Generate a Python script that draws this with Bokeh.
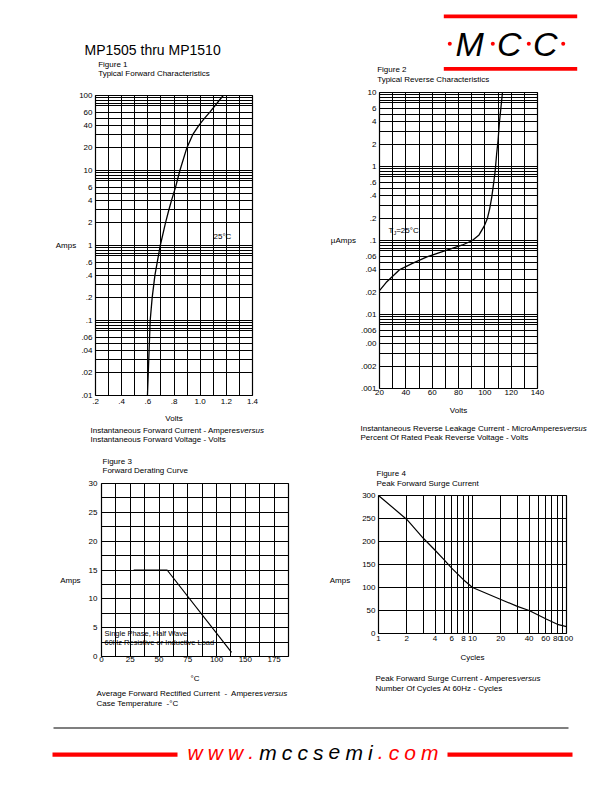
from bokeh.plotting import figure
from bokeh.models import Range1d, FixedTicker, CustomJSTickFormatter, Label, Spacer
from bokeh.layouts import column, row
from bokeh.embed import file_html
from bokeh.resources import INLINE
from bokeh.core.properties import value

FONT = "Liberation Sans"
NB = "\u00a0"

# ---------------- data ----------------
# Figure 1: typical forward characteristics (volts vs amps)
fig1_volts = [0.597, 0.618, 0.633, 0.654, 0.672, 0.695, 0.735, 0.761, 0.781, 0.812, 0.845, 0.898, 0.943, 0.99, 1.034, 1.074, 1.176]
fig1_amps = [0.01, 0.1, 0.2, 0.4, 0.6, 1, 2, 3, 4, 6, 10, 20, 30, 40, 50, 60, 100]
fig1_x_ticks = [0.2, 0.4, 0.6, 0.8, 1.0, 1.2, 1.4]
fig1_x_labels = [".2", ".4", ".6", ".8", "1.0", "1.2", "1.4"]
fig1_y_ticks = [0.01, 0.02, 0.04, 0.06, 0.1, 0.2, 0.4, 0.6, 1, 2, 4, 6, 10, 20, 40, 60, 100]
fig1_y_labels = [".01", ".02", ".04", ".06", ".1", ".2", ".4", ".6", "1", "2", "4", "6", "10", "20", "40", "60", "100"]

# Figure 2: typical reverse characteristics (% rated voltage vs microamps)
fig2_percent = [20, 25, 35, 45, 56, 65, 73, 83, 90.5, 95.6, 99.4, 102, 103.7, 105.2, 106.5, 107.8, 109, 110, 111.1, 113.4]
fig2_uamps = [0.021, 0.027, 0.04, 0.049, 0.06, 0.068, 0.076, 0.087, 0.1, 0.119, 0.155, 0.2, 0.27, 0.38, 0.56, 0.85, 1.5, 2.2, 4, 10]
fig2_x_ticks = [20, 40, 60, 80, 100, 120, 140]
fig2_x_labels = ["20", "40", "60", "80", "100", "120", "140"]
fig2_y_ticks = [0.001, 0.002, 0.004, 0.006, 0.01, 0.02, 0.04, 0.06, 0.1, 0.2, 0.4, 0.6, 1, 2, 4, 6, 10]
fig2_y_labels = [".001", ".002", ".00", ".006", ".01", ".02", ".04", ".06", ".1", ".2", ".4", ".6", "1", "2", "4", "6", "10"]

# Figure 3: forward derating curve
fig3_temp = [28, 57, 113]
fig3_amps = [15, 15, 0.7]
fig3_x_ticks = [0, 25, 50, 75, 100, 125, 150]
fig3_x_labels = ["0", "25", "50", "75", "100", "150", "175"]
fig3_y_ticks = [0, 5, 10, 15, 20, 25, 30]
fig3_y_labels = ["0", "5", "10", "15", "20", "25", "30"]

# Figure 4: peak forward surge current
fig4_cycles = [1, 2, 3, 4, 5, 6, 8, 10, 20, 30, 40, 60, 80, 100]
fig4_amps = [300, 248, 207, 181, 160, 142, 117, 100, 74, 59, 50, 32, 20, 15]
fig4_x_ticks = [1, 2, 4, 6, 8, 10, 20, 40, 60, 80, 100]
fig4_x_labels = ["1", "2", "4", "6", "8", "10", "20", "40", "60", "80", "100"]
fig4_y_ticks = [0, 50, 100, 150, 200, 250, 300]
fig4_y_labels = ["0", "50", "100", "150", "200", "250", "300"]

# ---------------- helpers ----------------
AW = {' ': 278, NB: 278, '-': 333, '.': 278, ',': 278, '=': 584, '°': 400, 'µ': 577,
      'A': 667, 'B': 667, 'C': 722, 'D': 722, 'E': 667, 'F': 611, 'G': 778, 'H': 722,
      'I': 278, 'J': 500, 'K': 667, 'L': 556, 'M': 833, 'N': 722, 'O': 778, 'P': 667,
      'R': 722, 'S': 667, 'T': 611, 'V': 667, 'W': 944,
      'a': 556, 'b': 556, 'c': 500, 'd': 556, 'e': 556, 'f': 278, 'g': 556, 'h': 556,
      'i': 222, 'j': 222, 'k': 500, 'l': 222, 'm': 833, 'n': 556, 'o': 556, 'p': 556,
      'q': 556, 'r': 333, 's': 500, 't': 278, 'u': 556, 'v': 500, 'w': 722, 'x': 500,
      'y': 500, 'z': 500}


def text_width(s, size):
    return sum(AW.get(ch, 556) for ch in s) * size / 1000.0


def fmt(ticks, labels):
    return CustomJSTickFormatter(args=dict(t=ticks, l=labels), code="""
        for (let i = 0; i < t.length; i++) {
            if (Math.abs(t[i] - tick) <= 1e-9 * Math.max(1, Math.abs(t[i]))) return l[i];
        }
        return "";
    """)


def pix(w, h, x0, y0):
    """A plain figure whose data coordinates equal page pixels."""
    p = figure(width=w, height=h, x_range=Range1d(x0, x0 + w), y_range=Range1d(y0 + h, y0),
               x_axis_location=None, y_axis_location=None, toolbar_location=None,
               output_backend="svg", min_border=0)
    p.title.visible = False
    p.outline_line_color = None
    p.background_fill_color = "white"
    p.border_fill_color = "white"
    p.xgrid.visible = False
    p.ygrid.visible = False
    return p


def ptext(p, x, y, txt, size=8, style="normal", color="black"):
    p.text(x=[x], y=[y], text=[txt], text_font=value(FONT), text_font_size=f"{size}px",
           text_font_style=style, text_baseline="middle", text_align="left", text_color=color)


def pcaption(p, x, y, main, ital=None, size=8):
    ptext(p, x, y, main, size)
    if ital:
        ptext(p, x + text_width(main, size), y, ital, size, style="italic")


def chart(width, height, fl, fr, ft, fb, xr, yr, xt, yt, xgrid, ygrid,
          xticks, xlabels, yticks, ylabels, xstand, ystand,
          xlabel, xlabel_stand, ylabel, ylabel_stand):
    p = figure(width=width, height=height, x_range=Range1d(*xr), y_range=Range1d(*yr),
               x_axis_type=xt, y_axis_type=yt, toolbar_location=None, output_backend="svg",
               min_border_left=fl, min_border_right=fr, min_border_top=ft, min_border_bottom=fb)
    p.title.visible = False
    p.background_fill_color = "white"
    p.border_fill_color = "white"
    p.outline_line_color = "black"
    p.outline_line_width = 1.2
    for ax in (p.xaxis[0], p.yaxis[0]):
        ax.axis_line_color = None
        ax.major_tick_line_color = None
        ax.minor_tick_line_color = None
        ax.major_tick_out = 0
        ax.major_tick_in = 0
        ax.minor_tick_out = 0
        ax.minor_tick_in = 0
        ax.major_label_text_font = FONT
        ax.major_label_text_font_size = "8px"
        ax.major_label_text_color = "black"
        ax.axis_label_text_font = FONT
        ax.axis_label_text_font_size = "8px"
        ax.axis_label_text_font_style = "normal"
        ax.axis_label_text_color = "black"
    p.xaxis[0].ticker = FixedTicker(ticks=xticks)
    p.xaxis[0].formatter = fmt(xticks, xlabels)
    p.xaxis[0].major_label_standoff = xstand
    p.xaxis[0].axis_label = xlabel
    p.xaxis[0].axis_label_standoff = xlabel_stand
    p.yaxis[0].ticker = FixedTicker(ticks=yticks)
    p.yaxis[0].formatter = fmt(yticks, ylabels)
    p.yaxis[0].major_label_standoff = ystand
    p.yaxis[0].axis_label = ylabel
    p.yaxis[0].axis_label_orientation = "horizontal"
    p.yaxis[0].axis_label_standoff = ylabel_stand
    p.xgrid.ticker = FixedTicker(ticks=xgrid)
    p.ygrid.ticker = FixedTicker(ticks=ygrid)
    for g in (p.xgrid[0], p.ygrid[0]):
        g.grid_line_color = "black"
        g.grid_line_width = 1
        g.grid_line_alpha = 1.0
    return p


def lab(p, flp, fbp, px, py, txt, size=8, style="normal"):
    """Text inside a chart frame, given in page pixels."""
    p.add_layout(Label(x=px - flp, y=fbp - py, x_units="screen", y_units="screen", text=txt,
                       text_font=FONT, text_font_size=f"{size}px", text_font_style=style,
                       text_baseline="middle", text_align="left", text_color="black"))


# ---------------- header (page y 0-84) ----------------
hdr = pix(612, 84, 0, 0)
ptext(hdr, 84, 49.7, "MP1505 thru MP1510", size=14)
hdr.quad(left=[443.3, 443.3], right=[576.7, 576.7], top=[14, 66.5], bottom=[17.8, 70.3],
         fill_color="#ff0000", line_color=None)
hdr.text(x=[455, 496.5, 532.5], y=[43, 43, 43], text=["M", "C", "C"], text_font=value(FONT),
         text_font_size="34px", text_font_style="italic", text_baseline="middle",
         text_align="left", text_color="black")
hdr.scatter(x=[449.3, 492.3, 528.3, 562.7], y=[43.3] * 4, size=4, marker="circle",
            fill_color="#ff0000", line_color=None)
ptext(hdr, 97.7, 64, "Figure 1")
ptext(hdr, 97.7, 73.3, "Typical Forward Characteristics")
ptext(hdr, 376.7, 69.3, "Figure 2")
ptext(hdr, 376.7, 79.3, "Typical Reverse Characteristics")

# ---------------- figure 1 (frame page x 95-252, y 95-395) ----------------
mult = [1, 2, 3, 4, 5, 6, 7.4, 7.9, 8.6, 9.3]
f1_ygrid = [d * m for d in (0.01, 0.1, 1, 10) for m in mult] + [100]
f1_xgrid = [0.2 + 0.1 * i for i in range(13)]
f1 = chart(306, 338, 95, 54, 8, 30, (0.2, 1.4), (0.01, 100), "linear", "log",
           f1_xgrid, f1_ygrid, fig1_x_ticks, fig1_x_labels, fig1_y_ticks, fig1_y_labels, 3, 3,
           "Volts", 7, "Amps", 0)
f1.line(fig1_volts, fig1_amps, line_color="black", line_width=1.3)
lab(f1, 95, 395, 213, 236, "25°C")

# ---------------- figure 2 (frame page x 379-537, y 92-388) ----------------
f2_ygrid = [d * m for d in (0.001, 0.01, 0.1, 1) for m in mult] + [10]
f2_xgrid = [20 + 10 * i for i in range(13)]
f2 = chart(306, 334, 73, 75, 8, 30, (20, 140), (0.001, 10), "linear", "log",
           f2_xgrid, f2_ygrid, fig2_x_ticks, fig2_x_labels, fig2_y_ticks, fig2_y_labels, 1, 3,
           "Volts", 8, "µAmps", 2)
f2.line(fig2_percent, fig2_uamps, line_color="black", line_width=1.3)
lab(f2, 379, 388, 388, 230, "T")
lab(f2, 379, 388, 388 + text_width("T", 8), 232, "J", size=5.5)
lab(f2, 379, 388, 388 + text_width("T", 8) + text_width("J", 5.5), 230, "=25°C")

rowA = row(column(Spacer(width=306, height=3), f1), column(f2))

# ---------------- captions of figures 1 and 2 (page y 425-445) ----------------
capB = pix(612, 20, 0, 425)
pcaption(capB, 90, 430, "Instantaneous Forward Current - Amperes", "versus")
pcaption(capB, 90, 439, "Instantaneous Forward Voltage - Volts")
pcaption(capB, 360, 428, "Instantaneous Reverse Leakage Current - MicroAmperes", "versus")
pcaption(capB, 360, 437, "Percent Of Rated Peak Reverse Voltage - Volts")

# ---------------- figure 3 (frame page x 101-288, y 483-656) ----------------
stripL = pix(306, 32, 0, 445)
ptext(stripL, 102, 461, "Figure 3")
ptext(stripL, 102, 470, "Forward Derating Curve")
f3_xgrid = [12.5 * i for i in range(14)]
f3_ygrid = [2.5 * i for i in range(13)]
f3 = chart(306, 209, 101, 18, 6, 30, (0, 162.5), (0, 30), "linear", "linear",
           f3_xgrid, f3_ygrid, fig3_x_ticks, fig3_x_labels, fig3_y_ticks, fig3_y_labels, 0, 4,
           "°C", 9, "\n\nAmps", 5)
f3.line(fig3_temp, fig3_amps, line_color="black", line_width=1.2)
lab(f3, 101, 656, 104, 633, "Single Phase, Half Wave", size=7.5)
lab(f3, 101, 656, 104, 642, "60Hz Resistive or Inductive Load", size=7.5)
capL3 = pix(306, 26, 0, 686)
pcaption(capL3, 96, 693, f"Average Forward Rectified Current {NB}-{NB} Amperes", "versus")
pcaption(capL3, 96, 703, f"Case Temperature {NB}-°C")

# ---------------- figure 4 (frame page x 378-566, y 495-634) ----------------
stripR = pix(306, 44, 306, 445)
ptext(stripR, 376, 473, "Figure 4")
ptext(stripR, 376, 483, "Peak Forward Surge Current")
f4_xgrid = [1, 2, 3, 4, 5, 6, 7, 8, 9, 10, 20, 30, 40, 50, 60, 70, 80, 90, 100]
f4_ygrid = [0, 50, 100, 150, 200, 250, 300]
f4 = chart(306, 175, 72, 46, 6, 30, (1, 100), (0, 300), "log", "linear",
           f4_xgrid, f4_ygrid, fig4_x_ticks, fig4_x_labels, fig4_y_ticks, fig4_y_labels, 2, 3,
           "Cycles", 9, "\n\n\nAmps", 9)
f4.line(fig4_cycles, fig4_amps, line_color="black", line_width=1.2)
capR4 = pix(306, 48, 306, 664)
pcaption(capR4, 375, 678, "Peak Forward Surge Current - Amperes", "versus")
pcaption(capR4, 375, 688, "Number Of Cycles At 60Hz - Cycles")

# each chart sits in its own column so its borders are not shared with the text strips
rowC = row(column(stripL, column(f3), capL3), column(stripR, column(f4), capR4))

# ---------------- footer (page y 712-792) ----------------
ftr = pix(612, 80, 0, 712)
ftr.segment(x0=[53], y0=[727.5], x1=[568], y1=[727.5], line_color="black", line_width=1.2)
ftr.quad(left=[52, 447], right=[177, 572], top=[752, 752], bottom=[756.3, 756.3],
         fill_color="#ff0000", line_color=None)
site = "www.mccsemi.com"
cx, xs, cols = 187.0, [], []
for i, ch in enumerate(site):
    xs.append(cx)
    cols.append("#ff0000" if (i < 4 or i >= 11) else "black")
    cx += text_width(ch, 21) + 5.1
ftr.text(x=xs, y=[751.5] * len(site), text=list(site), text_color=cols, text_font=value(FONT),
         text_font_size="21px", text_font_style="italic", text_baseline="middle", text_align="left")

page = column(hdr, rowA, capB, rowC, ftr)
open("out.html", "w").write(file_html(page, INLINE))
